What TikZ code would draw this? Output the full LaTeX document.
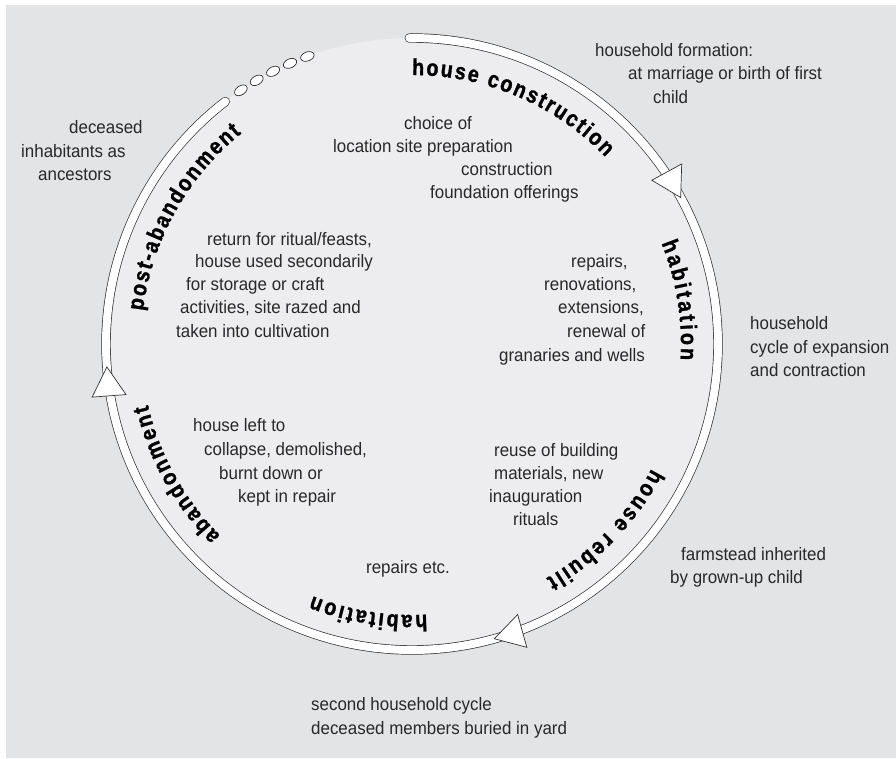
\documentclass[tikz,border=0pt]{standalone}
\usepackage{fontspec}
\setmainfont[FakeStretch=0.94]{Liberation Sans}
\newfontfamily\arcfam[FakeStretch=0.86, FakeBold=1.2, UprightFont={* Bold}]{Liberation Sans}
\usetikzlibrary{decorations.text}
\definecolor{bgG}{RGB}{227,228,230}
\definecolor{discG}{RGB}{237,237,239}
\definecolor{inkD}{RGB}{40,40,40}
\definecolor{rimD}{RGB}{50,50,50}
\newcommand\arcfont{\arcfam\fontsize{23}{23}\selectfont}

\begin{document}
\begin{tikzpicture}[
  x=1pt, y=1pt,
  txt/.style={anchor=base west, inner sep=0pt, text=inkD, font=\fontsize{18}{22}\selectfont},
  band/.style={draw=rimD, line width=0.7pt, double=white, double distance=8pt, line cap=round},
  bead/.style={draw=rimD, line width=0.7pt, fill=white},
  arclbl/.style={decorate, decoration={text along path, text align=fit to path, text={|\arcfont\color{black}|#1}}},
  headtip/.pic={\draw[rimD, line width=0.7pt, fill=white, line join=miter] (306,0) -- (289,29) -- (323,29) -- cycle;}
]
\useasboundingbox (0,0) rectangle (896,-758);
\fill[white] (0,0) rectangle (896,-758);
\fill[bgG] (6,-5) rectangle (896,-758);

\coordinate (C) at (412,-344);
\fill[discG] (C) circle[radius=306];

% the cycle
\draw[band] ([shift={(90.5:306)}]C) arc[start angle=90.5, end angle=-232.4, radius=306];
\foreach \a in {124,120.5,117,113.5,110}
  \draw[bead, shift={(C)}, rotate=\a] (306,0) ellipse[x radius=4.5, y radius=7];
\pic[rotate=28.6] at (C) {headtip};
\pic[rotate=-74.4] at (C) {headtip};
\pic[rotate=-175.7] at (C) {headtip};

% stage names
\path[arclbl={house construction}] ([shift={(90:269)}]C) arc[start angle=90, end angle=44, radius=269];
\path[arclbl={habitation}] ([shift={(22:269)}]C) arc[start angle=22, end angle=-3.4, radius=269];
\path[arclbl={house rebuilt}] ([shift={(-27.5:270)}]C) arc[start angle=-27.5, end angle=-60.2, radius=270];
\path[arclbl={habitation}] ([shift={(-86.8:271)}]C) arc[start angle=-86.8, end angle=-111.5, radius=271];
\path[arclbl={abandonment}] ([shift={(-135:271)}]C) arc[start angle=-135, end angle=-167, radius=271];
\path[arclbl={post-abandonment}] ([shift={(173:271)}]C) arc[start angle=173, end angle=129, radius=271];

% inside the circle
\node[txt] (cho1) at (404,-129) {choice of};
\node[txt] (cho2) at (333,-152) {location site preparation};
\node[txt] (cho3) at (461,-175) {construction};
\node[txt] (cho4) at (430,-198) {foundation offerings};

\node[txt] (rep1) at (571,-267) {repairs,};
\node[txt] (rep2) at (544,-290) {renovations,};
\node[txt] (rep3) at (558,-313) {extensions,};
\node[txt] (rep4) at (567,-337) {renewal of};
\node[txt] (rep5) at (499,-361) {granaries and wells};

\node[txt] (ret1) at (207,-245) {return for ritual/feasts,};
\node[txt] (ret2) at (195,-267) {house used secondarily};
\node[txt] (ret3) at (186,-290) {for storage or craft};
\node[txt] (ret4) at (180,-313) {activities, site razed and};
\node[txt] (ret5) at (176,-337) {taken into cultivation};

\node[txt] (lft1) at (193,-431) {house left to};
\node[txt] (lft2) at (204,-455) {collapse, demolished,};
\node[txt] (lft3) at (219,-479) {burnt down or};
\node[txt] (lft4) at (238,-502) {kept in repair};

\node[txt] (reu1) at (494,-456) {reuse of building};
\node[txt] (reu2) at (494,-479) {materials, new};
\node[txt] (reu3) at (489,-502) {inauguration};
\node[txt] (reu4) at (513,-525) {rituals};

\node[txt] (etc1) at (366,-573) {repairs etc.};

% outside the circle
\node[txt] (anc1) at (69,-133) {deceased};
\node[txt] (anc2) at (21,-157) {inhabitants as};
\node[txt] (anc3) at (38,-180) {ancestors};

\node[txt] (frm1) at (595,-56) {household formation:};
\node[txt] (frm2) at (628,-79) {at marriage or birth of first};
\node[txt] (frm3) at (653,-103) {child};

\node[txt] (cyc1) at (750,-329) {household};
\node[txt] (cyc2) at (750,-353) {cycle of expansion};
\node[txt] (cyc3) at (750,-376) {and contraction};

\node[txt] (inh1) at (681,-560) {farmstead inherited};
\node[txt] (inh2) at (670,-583) {by grown-up child};

\node[txt] (sec1) at (311,-710) {second household cycle};
\node[txt] (sec2) at (311,-734) {deceased members buried in yard};

\end{tikzpicture}
\end{document}
